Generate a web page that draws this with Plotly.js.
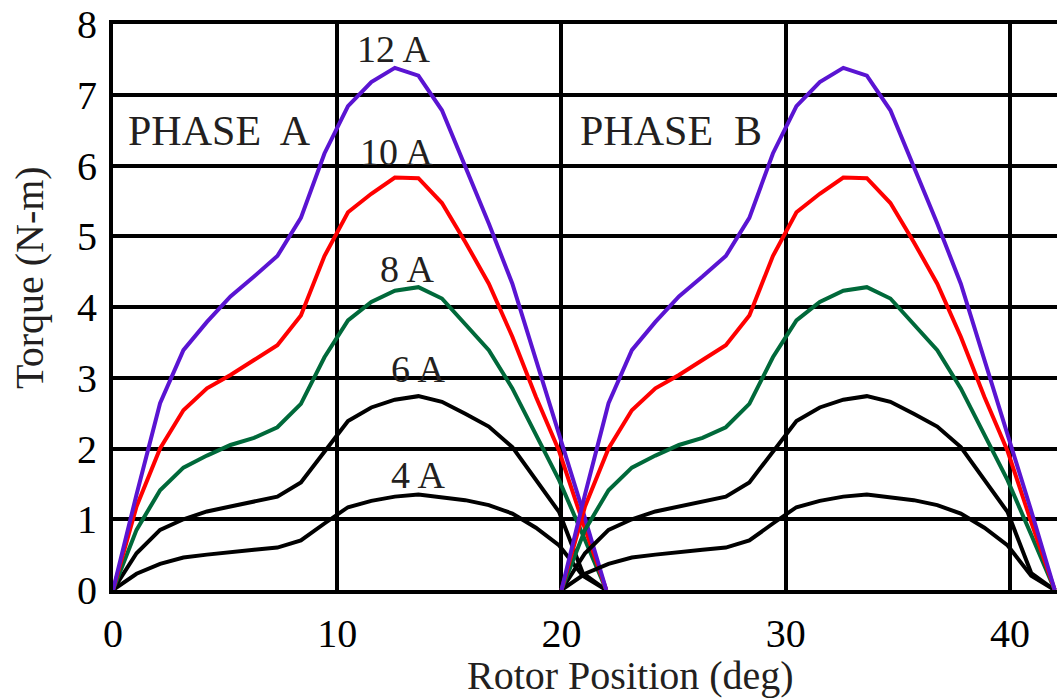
<!DOCTYPE html>
<html>
<head>
<meta charset="utf-8">
<script src="https://cdn.plot.ly/plotly-3.0.1.min.js"></script>
<style>html,body{margin:0;padding:0;background:#fff;}#chart{width:1063px;height:698px;}</style>
</head>
<body>
<div id="chart"></div>
<script>
// Rotor position samples for one phase (deg)
const positionA = [0, 1.05, 2.1, 3.14, 4.19, 5.24, 6.29, 7.33, 8.38, 9.43, 10.48, 11.52, 12.57, 13.62, 14.67, 15.71, 16.76, 17.81, 18.86, 19.9, 20.95, 22];
const phaseBShift = 20;
// Torque (N-m) per current
const torque4A  = [0, 0.23, 0.37, 0.46, 0.50, 0.54, 0.57, 0.60, 0.70, 0.94, 1.17, 1.26, 1.32, 1.35, 1.31, 1.27, 1.20, 1.08, 0.88, 0.63, 0.20, 0];
const torque6A  = [0, 0.52, 0.85, 1.00, 1.11, 1.18, 1.24, 1.32, 1.52, 1.95, 2.39, 2.58, 2.69, 2.74, 2.66, 2.49, 2.31, 2.02, 1.56, 1.10, 0.24, 0];
const torque8A  = [0, 0.85, 1.41, 1.73, 1.90, 2.05, 2.15, 2.30, 2.63, 3.29, 3.81, 4.07, 4.23, 4.28, 4.12, 3.76, 3.39, 2.85, 2.21, 1.55, 0.78, 0];
const torque10A = [0, 1.18, 2.00, 2.54, 2.85, 3.04, 3.25, 3.46, 3.88, 4.72, 5.34, 5.60, 5.83, 5.82, 5.47, 4.92, 4.33, 3.58, 2.73, 1.96, 0.96, 0];
const torque12A = [0, 1.35, 2.64, 3.39, 3.79, 4.15, 4.43, 4.72, 5.26, 6.17, 6.84, 7.18, 7.38, 7.27, 6.78, 6.00, 5.18, 4.33, 3.25, 2.22, 1.12, 0];
const currentLabels = ['4 A', '6 A', '8 A', '10 A', '12 A'];
const phaseLabels = ['PHASE  A', 'PHASE  B'];
const xTicks = [0, 10, 20, 30, 40];
const yTicks = [0, 1, 2, 3, 4, 5, 6, 7, 8];

const series = [torque4A, torque6A, torque8A, torque10A, torque12A];
const colors = ['#000000', '#000000', '#00693a', '#ff0000', '#5a14d2'];

const positionB = positionA.map(d => d + phaseBShift);
const traces = [];
[positionA, positionB].forEach((pos, p) => {
  series.forEach((ys, k) => {
    traces.push({
      x: pos, y: ys, type: 'scatter', mode: 'lines',
      name: currentLabels[k] + ' ' + phaseLabels[p],
      line: {color: colors[k], width: 4},
      showlegend: false, hoverinfo: 'skip'
    });
  });
});

const FAM = 'Liberation Serif';
const txt = {family: FAM, color: '#231f20'};
const labelPos = [[13.6, 1.62], [13.6, 3.12], [13.1, 4.54], [12.65, 6.19], [12.5, 7.65]];
const annotations = currentLabels.map((t, k) => ({
  x: labelPos[k][0], y: labelPos[k][1], xref: 'x', yref: 'y', text: t, showarrow: false,
  font: Object.assign({size: 38}, txt), xanchor: 'center', yanchor: 'middle'
}));
annotations.push({x: 4.77, y: 6.49, xref: 'x', yref: 'y', text: phaseLabels[0], showarrow: false,
  font: Object.assign({size: 42}, txt), xanchor: 'center', yanchor: 'middle'});
annotations.push({x: 24.9, y: 6.49, xref: 'x', yref: 'y', text: phaseLabels[1], showarrow: false,
  font: Object.assign({size: 42}, txt), xanchor: 'center', yanchor: 'middle'});

const L = 113, R = 6, T = 24, B = 108, W = 1063, H = 698;
const pw = W - L - R, ph = H - T - B;
// axis titles placed by pixel position converted to paper coordinates
annotations.push({x: (630 - L) / pw, y: (H - B - 675) / ph, xref: 'paper', yref: 'paper',
  text: 'Rotor Position (deg)', showarrow: false,
  font: Object.assign({size: 40}, txt), xanchor: 'center', yanchor: 'middle'});
annotations.push({x: (29 - L) / pw, y: (H - B - 278) / ph, xref: 'paper', yref: 'paper',
  text: 'Torque (N-m)', showarrow: false, textangle: -90,
  font: Object.assign({size: 40}, txt), xanchor: 'center', yanchor: 'middle'});

const layout = {
  width: W, height: H,
  font: {family: FAM, size: 40, color: '#000000'},
  margin: {l: L, r: R, t: T, b: B, pad: 0},
  paper_bgcolor: '#ffffff', plot_bgcolor: '#ffffff',
  showlegend: false,
  xaxis: {
    range: [0, 42.1], tickvals: xTicks, ticktext: xTicks.map(String),
    showgrid: true, gridcolor: '#000000', gridwidth: 4,
    zeroline: false, showline: true, linecolor: '#000000', linewidth: 4, mirror: true,
    ticks: '', tickfont: {family: FAM, size: 40, color: '#000000'},
    ticklabelstandoff: 5, fixedrange: true
  },
  yaxis: {
    range: [0, 8], tickvals: yTicks, ticktext: yTicks.map(String),
    showgrid: true, gridcolor: '#000000', gridwidth: 4,
    zeroline: false, showline: true, linecolor: '#000000', linewidth: 4, mirror: false,
    ticks: '', tickfont: {family: FAM, size: 40, color: '#000000'},
    ticklabelstandoff: 4, fixedrange: true
  },
  annotations: annotations
};

Plotly.newPlot('chart', traces, layout, {staticPlot: true, displayModeBar: false});
</script>
</body>
</html>
